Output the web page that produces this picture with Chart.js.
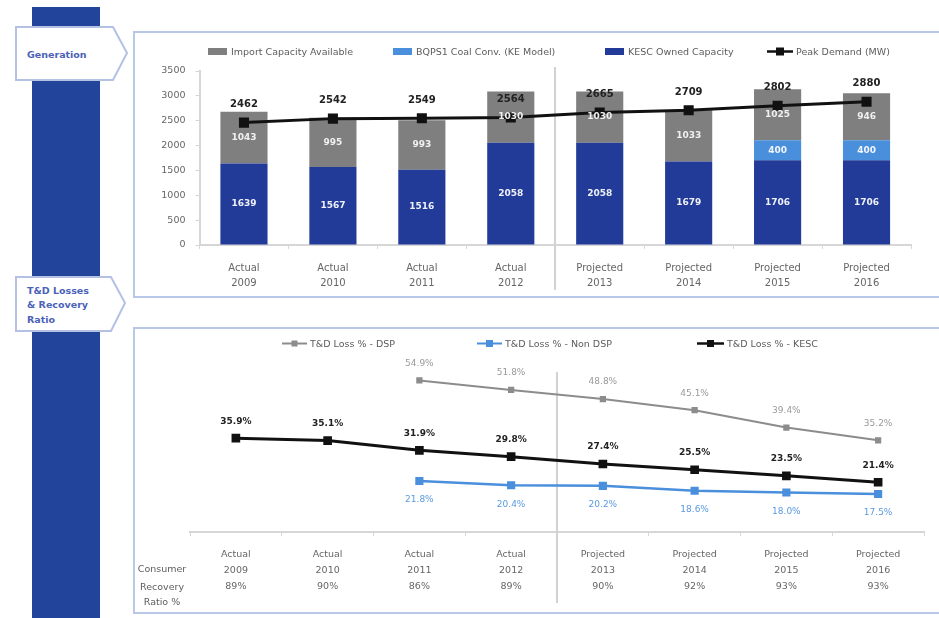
<!DOCTYPE html>
<html>
<head>
<meta charset="utf-8">
<script src="https://cdn.jsdelivr.net/npm/chart.js@4.4.1/dist/chart.umd.min.js"></script>
<style>
  body { margin: 0; width: 939px; height: 618px; background: #fff; position: relative; overflow: hidden;
         font-family: "DejaVu Sans", sans-serif; color: #5c5c5c; }
  .rail { position: absolute; left: 32px; top: 7px; width: 68px; height: 611px; background: #22459b; }
  .panel { position: absolute; left: 133px; width: 830px; border: 2px solid #bac8e8; background: #fff; }
  canvas { position: absolute; }
  .leg { position: absolute; font-size: 9.5px; white-space: nowrap; line-height: 12px; }
  .leg i { display: inline-block; width: 19px; height: 7px; vertical-align: 0; margin-right: 4px; }
  .leg svg { vertical-align: -1px; margin-right: 3px; }
  .rowhead { position: absolute; left: 130px; width: 64px; text-align: center; font-size: 9.5px; line-height: 16px; }
</style>
</head>
<body>
<div class="rail"></div>
<svg width="140" height="618" style="position:absolute;left:0;top:0">
  <polygon points="16,27 113,27 127,53 113,80 16,80" fill="#fff" stroke="#b4c1e3" stroke-width="2"/>
  <text x="27" y="58" font-family="DejaVu Sans" font-weight="bold" font-size="9.5" fill="#4b62b8">Generation</text>
  <polygon points="16,277 111,277 125,303 111,331 16,331" fill="#fff" stroke="#b4c1e3" stroke-width="2"/>
  <text font-family="DejaVu Sans" font-weight="bold" font-size="9.5" fill="#4b62b8">
    <tspan x="27" y="294">T&amp;D Losses</tspan>
    <tspan x="27" y="308">&amp; Recovery</tspan>
    <tspan x="27" y="323">Ratio</tspan>
  </text>
</svg>

<div class="panel" style="top:31px;height:263px"></div>
<div class="panel" style="top:327px;height:283px"></div>

<canvas id="genChart" width="805" height="263" style="left:134px;top:32px"></canvas>
<canvas id="lossChart" width="805" height="282" style="left:134px;top:330px"></canvas>

<!-- generation legend -->
<div class="leg" style="left:208px;top:46px"><i style="background:#7f7f7f"></i>Import Capacity Available</div>
<div class="leg" style="left:393px;top:46px"><i style="background:#4a8fdc"></i>BQPS1 Coal Conv. (KE Model)</div>
<div class="leg" style="left:605px;top:46px"><i style="background:#223a98"></i>KESC Owned Capacity</div>
<div class="leg" style="left:767px;top:46px"><svg width="26" height="9"><line x1="0" y1="4.5" x2="26" y2="4.5" stroke="#111" stroke-width="2.5"/><rect x="9" y="0.5" width="8" height="8" fill="#111"/></svg>Peak Demand (MW)</div>

<!-- losses legend -->
<div class="leg" style="left:282px;top:338px"><svg width="25" height="9"><line x1="0" y1="4.5" x2="25" y2="4.5" stroke="#8c8c8c" stroke-width="2"/><rect x="9.5" y="1.5" width="6" height="6" fill="#8c8c8c"/></svg>T&amp;D Loss % - DSP</div>
<div class="leg" style="left:477px;top:338px"><svg width="25" height="9"><line x1="0" y1="4.5" x2="25" y2="4.5" stroke="#4a8fdc" stroke-width="2"/><rect x="9" y="1" width="7" height="7" fill="#4a8fdc"/></svg>T&amp;D Loss % - Non DSP</div>
<div class="leg" style="left:697px;top:338px"><svg width="27" height="9"><line x1="0" y1="4.5" x2="27" y2="4.5" stroke="#111" stroke-width="2.5"/><rect x="10" y="1" width="7" height="7" fill="#111"/></svg>T&amp;D Loss % - KESC</div>

<div class="rowhead" style="top:561px">Consumer</div>
<div class="rowhead" style="top:579px">Recovery</div>
<div class="rowhead" style="top:594px">Ratio %</div>

<script>
// years and period type
const stages = ['Actual', 'Actual', 'Actual', 'Actual', 'Projected', 'Projected', 'Projected', 'Projected'];
const years = ['2009', '2010', '2011', '2012', '2013', '2014', '2015', '2016'];

// generation (MW)
const kescOwned = [1639, 1567, 1516, 2058, 2058, 1679, 1706, 1706];
const bqpsCoal = [null, null, null, null, null, null, 400, 400];
const importCap = [1043, 995, 993, 1030, 1030, 1033, 1025, 946];
const peakDemand = [2462, 2542, 2549, 2564, 2665, 2709, 2802, 2880];
const genTicks = [0, 500, 1000, 1500, 2000, 2500, 3000, 3500];

// T&D losses (%) and recovery ratio (%)
const lossDsp = [null, null, 54.9, 51.8, 48.8, 45.1, 39.4, 35.2];
const lossNonDsp = [null, null, 21.8, 20.4, 20.2, 18.6, 18.0, 17.5];
const lossKesc = [35.9, 35.1, 31.9, 29.8, 27.4, 25.5, 23.5, 21.4];
const recoveryRatio = [89, 90, 86, 89, 90, 92, 93, 93];

Chart.defaults.font.family = '"DejaVu Sans", sans-serif';
Chart.defaults.font.size = 10;
Chart.defaults.color = '#666';

// writes each value on its bar segment / above or below its point
const valueLabels = {
  id: 'valueLabels',
  afterDatasetsDraw(chart) {
    const ctx = chart.ctx;
    chart.data.datasets.forEach((ds, i) => {
      const lab = ds.valueLabel;
      if (!lab) return;
      const meta = chart.getDatasetMeta(i);
      ctx.save();
      ctx.font = lab.font;
      ctx.fillStyle = lab.color;
      ctx.textAlign = 'center';
      ctx.textBaseline = 'middle';
      meta.data.forEach((el, j) => {
        const v = ds.data[j];
        if (v == null) return;
        const y = lab.inside ? (el.y + el.base) / 2 : el.y + lab.dy;
        ctx.fillText(lab.format(v), el.x, y);
      });
      ctx.restore();
    });
  }
};

// vertical rule between actual and projected years
const splitLine = {
  id: 'splitLine',
  beforeDatasetsDraw(chart, args, opts) {
    const xs = chart.scales.x;
    const px = Math.round((xs.getPixelForValue(opts.after) + xs.getPixelForValue(opts.after + 1)) / 2);
    const ctx = chart.ctx;
    ctx.save();
    ctx.strokeStyle = '#d2d2d2';
    ctx.lineWidth = 2;
    ctx.beginPath();
    ctx.moveTo(px, chart.chartArea.top + opts.top);
    ctx.lineTo(px, chart.height - opts.bottom);
    ctx.stroke();
    ctx.restore();
  }
};

const axisGrid = { drawOnChartArea: false, color: '#d6d6d6', tickLength: 4 };

new Chart(document.getElementById('genChart'), {
  type: 'bar',
  data: {
    labels: years.map((y, i) => [stages[i], y]),
    datasets: [
      {
        type: 'line', label: 'Peak Demand (MW)', data: peakDemand, stack: 'peak', order: 0,
        borderColor: '#111', backgroundColor: '#111', borderWidth: 3,
        pointStyle: 'rect', pointRadius: 5, pointHoverRadius: 5,
        valueLabel: { font: 'bold 10px "DejaVu Sans"', color: '#222', dy: -18, format: v => String(v) }
      },
      {
        label: 'KESC Owned Capacity', data: kescOwned, backgroundColor: '#223a98', order: 1,
        valueLabel: { inside: true, font: 'bold 9px "DejaVu Sans"', color: '#eef1fa', format: v => String(v) }
      },
      {
        label: 'BQPS1 Coal Conv. (KE Model)', data: bqpsCoal, backgroundColor: '#4a8fdc', order: 1,
        valueLabel: { inside: true, font: 'bold 9px "DejaVu Sans"', color: '#f2f6fc', format: v => String(v) }
      },
      {
        label: 'Import Capacity Available', data: importCap, backgroundColor: '#7f7f7f', order: 1,
        valueLabel: { inside: true, font: 'bold 9px "DejaVu Sans"', color: '#f0f0f0', format: v => String(v) }
      }
    ]
  },
  options: {
    responsive: false,
    animation: false,
    layout: { padding: { top: 39, right: 28, left: 0, bottom: 0 } },
    datasets: { bar: { categoryPercentage: 1, barPercentage: 0.53 } },
    scales: {
      x: {
        stacked: true,
        grid: axisGrid,
        border: { color: '#d6d6d6', width: 2 },
        ticks: { padding: 12, font: { size: 10, lineHeight: 1.5 } },
        afterFit: s => { s.height = 50; }
      },
      y: {
        stacked: true,
        min: genTicks[0], max: genTicks[genTicks.length - 1],
        afterBuildTicks: s => { s.ticks = genTicks.map(v => ({ value: v })); },
        grid: axisGrid,
        border: { color: '#d6d6d6', width: 2 },
        ticks: { padding: 10, font: { size: 9.5 }, callback: v => String(v) },
        afterFit: s => { s.width = 65.5; }
      }
    },
    plugins: {
      legend: { display: false },
      tooltip: { enabled: false },
      splitLine: { after: 3, top: -4, bottom: 5 }
    }
  },
  plugins: [splitLine, valueLabels]
});

const pct = v => v.toFixed(1) + '%';

new Chart(document.getElementById('lossChart'), {
  type: 'line',
  data: {
    labels: years.map((y, i) => [stages[i], y, recoveryRatio[i] + '%']),
    datasets: [
      {
        label: 'T&D Loss % - DSP', data: lossDsp,
        borderColor: '#8c8c8c', backgroundColor: '#8c8c8c', borderWidth: 2,
        pointStyle: 'rect', pointRadius: 3,
        valueLabel: { font: '9px "DejaVu Sans"', color: '#9a9a9a', dy: -17, format: pct }
      },
      {
        label: 'T&D Loss % - Non DSP', data: lossNonDsp,
        borderColor: '#4a8fdc', backgroundColor: '#4a8fdc', borderWidth: 2.5,
        pointStyle: 'rect', pointRadius: 4,
        valueLabel: { font: '9px "DejaVu Sans"', color: '#5a9ae0', dy: 19, format: pct }
      },
      {
        label: 'T&D Loss % - KESC', data: lossKesc,
        borderColor: '#111', backgroundColor: '#111', borderWidth: 3,
        pointStyle: 'rect', pointRadius: 4,
        valueLabel: { font: 'bold 9px "DejaVu Sans"', color: '#222', dy: -17, format: pct }
      }
    ]
  },
  options: {
    responsive: false,
    animation: false,
    layout: { padding: { top: 35, right: 15, left: 56, bottom: 0 } },
    scales: {
      x: {
        offset: true,
        grid: Object.assign({ offset: true }, axisGrid),
        border: { color: '#d6d6d6', width: 2 },
        ticks: { padding: 11, font: { size: 9.5, lineHeight: 1.65 } },
        afterFit: s => { s.height = 80; }
      },
      y: { display: false, min: 5, max: 60 }
    },
    plugins: {
      legend: { display: false },
      tooltip: { enabled: false },
      splitLine: { after: 3, top: 7, bottom: 9 }
    }
  },
  plugins: [splitLine, valueLabels]
});
</script>
</body>
</html>
